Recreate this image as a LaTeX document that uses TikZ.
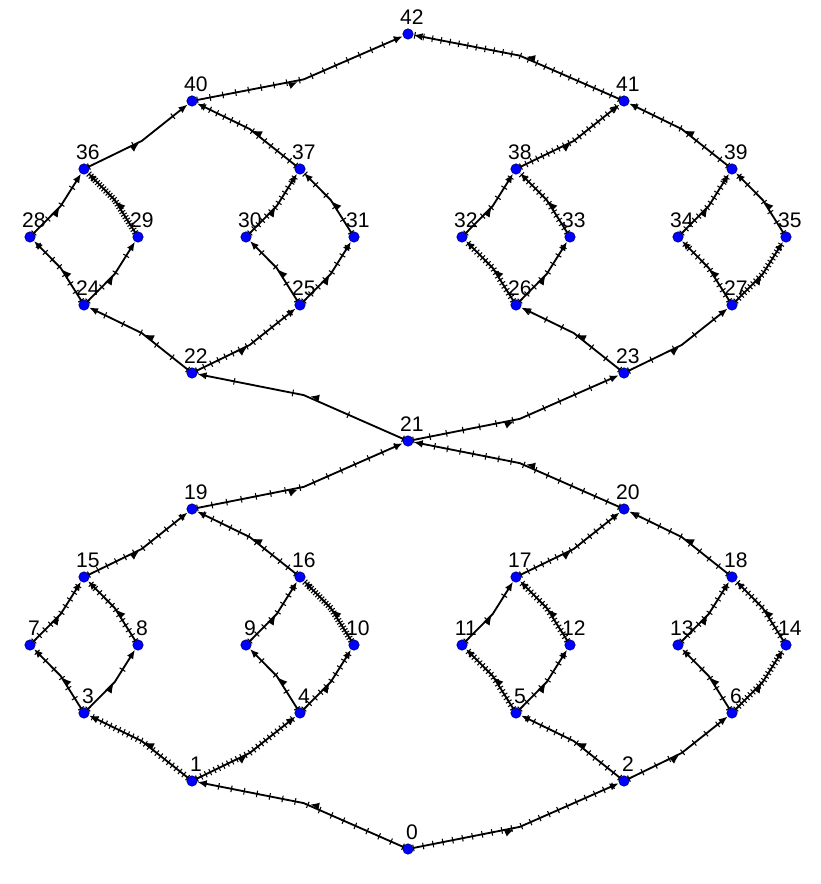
\documentclass[tikz,border=0pt]{standalone}
\usepackage{fontspec}
\setmainfont{Liberation Sans}
\usetikzlibrary{calc,arrows.meta,decorations.markings}

% edge from #1 to #2, bent a little to the right, ticks every #3
\newcommand{\linkedge}[3]{%
  \draw[flow=#3] (#1) -- ($(#1)!0.5!(#2)!0.11!-90:(#2)$) -- (#2);}

\begin{document}
\begin{tikzpicture}[x=0.02cm, y=-0.02cm,
  dot/.style={circle, fill=blue, draw=blue!40!black, line width=0.3pt,
    inner sep=0pt, minimum size=0.21cm},
  every label/.style={inner sep=0pt, font=\fontsize{12}{14}\selectfont,
    xshift=2.2pt},
  label distance=1.8pt,
  flow/.style={line width=1.05pt, -{Latex[length=5.2pt,width=4.2pt]},
    postaction={decorate, decoration={markings,
      mark=between positions 0 and 1 step #1 with
        {\draw[-, line width=0.6pt] (0,-1.9pt) -- (0,1.9pt);},
      mark=at position 0.47 with
        {\arrow{Latex[length=5.2pt,width=4.2pt]}}}}}]
  \useasboundingbox (0,0) rectangle (820,884);

  % vertices
  \node (N0) at (408,849) [dot, label=above:0] {};
  \node (N1) at (192,781) [dot, label=above:1] {};
  \node (N2) at (624,781) [dot, label=above:2] {};
  \node (N3) at (84,713) [dot, label=above:3] {};
  \node (N4) at (300,713) [dot, label=above:4] {};
  \node (N5) at (516,713) [dot, label=above:5] {};
  \node (N6) at (732,713) [dot, label=above:6] {};
  \node (N7) at (30,645) [dot, label=above:7] {};
  \node (N8) at (138,645) [dot, label=above:8] {};
  \node (N9) at (246,645) [dot, label=above:9] {};
  \node (N10) at (354,645) [dot, label=above:10] {};
  \node (N11) at (462,645) [dot, label=above:11] {};
  \node (N12) at (570,645) [dot, label=above:12] {};
  \node (N13) at (678,645) [dot, label=above:13] {};
  \node (N14) at (786,645) [dot, label=above:14] {};
  \node (N15) at (84,577) [dot, label=above:15] {};
  \node (N16) at (300,577) [dot, label=above:16] {};
  \node (N17) at (516,577) [dot, label=above:17] {};
  \node (N18) at (732,577) [dot, label=above:18] {};
  \node (N19) at (192,509) [dot, label=above:19] {};
  \node (N20) at (624,509) [dot, label=above:20] {};
  \node (N21) at (408,441) [dot, label=above:21] {};
  \node (N22) at (192,373) [dot, label=above:22] {};
  \node (N23) at (624,373) [dot, label=above:23] {};
  \node (N24) at (84,305) [dot, label=above:24] {};
  \node (N25) at (300,305) [dot, label=above:25] {};
  \node (N26) at (516,305) [dot, label=above:26] {};
  \node (N27) at (732,305) [dot, label=above:27] {};
  \node (N28) at (30,237) [dot, label=above:28] {};
  \node (N29) at (138,237) [dot, label=above:29] {};
  \node (N30) at (246,237) [dot, label=above:30] {};
  \node (N31) at (354,237) [dot, label=above:31] {};
  \node (N32) at (462,237) [dot, label=above:32] {};
  \node (N33) at (570,237) [dot, label=above:33] {};
  \node (N34) at (678,237) [dot, label=above:34] {};
  \node (N35) at (786,237) [dot, label=above:35] {};
  \node (N36) at (84,169) [dot, label=above:36] {};
  \node (N37) at (300,169) [dot, label=above:37] {};
  \node (N38) at (516,169) [dot, label=above:38] {};
  \node (N39) at (732,169) [dot, label=above:39] {};
  \node (N40) at (192,101) [dot, label=above:40] {};
  \node (N41) at (624,101) [dot, label=above:41] {};
  \node (N42) at (408,34) [dot, label=above:42] {};

  % lower half
  \linkedge{N0}{N1}{7.4pt}
  \linkedge{N0}{N2}{5.7pt}
  \linkedge{N1}{N3}{2.8pt}
  \linkedge{N1}{N4}{2.8pt}
  \linkedge{N2}{N5}{4.5pt}
  \linkedge{N2}{N6}{8.5pt}
  \linkedge{N3}{N7}{6.8pt}
  \linkedge{N3}{N8}{30pt}
  \linkedge{N4}{N9}{11.3pt}
  \linkedge{N4}{N10}{4.5pt}
  \linkedge{N5}{N11}{2.3pt}
  \linkedge{N5}{N12}{5.7pt}
  \linkedge{N6}{N13}{6.8pt}
  \linkedge{N6}{N14}{2.3pt}
  \linkedge{N7}{N15}{4.5pt}
  \linkedge{N8}{N15}{3.4pt}
  \linkedge{N9}{N16}{5.7pt}
  \linkedge{N10}{N16}{1.7pt}
  \linkedge{N11}{N17}{17pt}
  \linkedge{N12}{N17}{2.3pt}
  \linkedge{N13}{N18}{4.5pt}
  \linkedge{N14}{N18}{2.8pt}
  \linkedge{N15}{N19}{5.7pt}
  \linkedge{N16}{N19}{5.7pt}
  \linkedge{N17}{N20}{4.5pt}
  \linkedge{N18}{N20}{6.8pt}
  \linkedge{N19}{N21}{8.5pt}
  \linkedge{N20}{N21}{7.4pt}

  % upper half
  \linkedge{N21}{N22}{34pt}
  \linkedge{N21}{N23}{9.6pt}
  \linkedge{N22}{N24}{11.3pt}
  \linkedge{N22}{N25}{4.5pt}
  \linkedge{N23}{N26}{10.2pt}
  \linkedge{N23}{N27}{14.2pt}
  \linkedge{N24}{N28}{5.7pt}
  \linkedge{N24}{N29}{11.3pt}
  \linkedge{N25}{N30}{11.3pt}
  \linkedge{N25}{N31}{5.7pt}
  \linkedge{N26}{N32}{2.3pt}
  \linkedge{N26}{N33}{5.7pt}
  \linkedge{N27}{N34}{3.4pt}
  \linkedge{N27}{N35}{2.3pt}
  \linkedge{N28}{N36}{11.3pt}
  \linkedge{N29}{N36}{1.7pt}
  \linkedge{N30}{N37}{3.4pt}
  \linkedge{N31}{N37}{8.5pt}
  \linkedge{N32}{N38}{6.8pt}
  \linkedge{N33}{N38}{2.8pt}
  \linkedge{N34}{N39}{3.4pt}
  \linkedge{N35}{N39}{6.8pt}
  \linkedge{N36}{N40}{28pt}
  \linkedge{N37}{N40}{4.5pt}
  \linkedge{N38}{N41}{3.4pt}
  \linkedge{N39}{N41}{5.7pt}
  \linkedge{N40}{N42}{7.4pt}
  \linkedge{N41}{N42}{5.1pt}
\end{tikzpicture}
\end{document}
